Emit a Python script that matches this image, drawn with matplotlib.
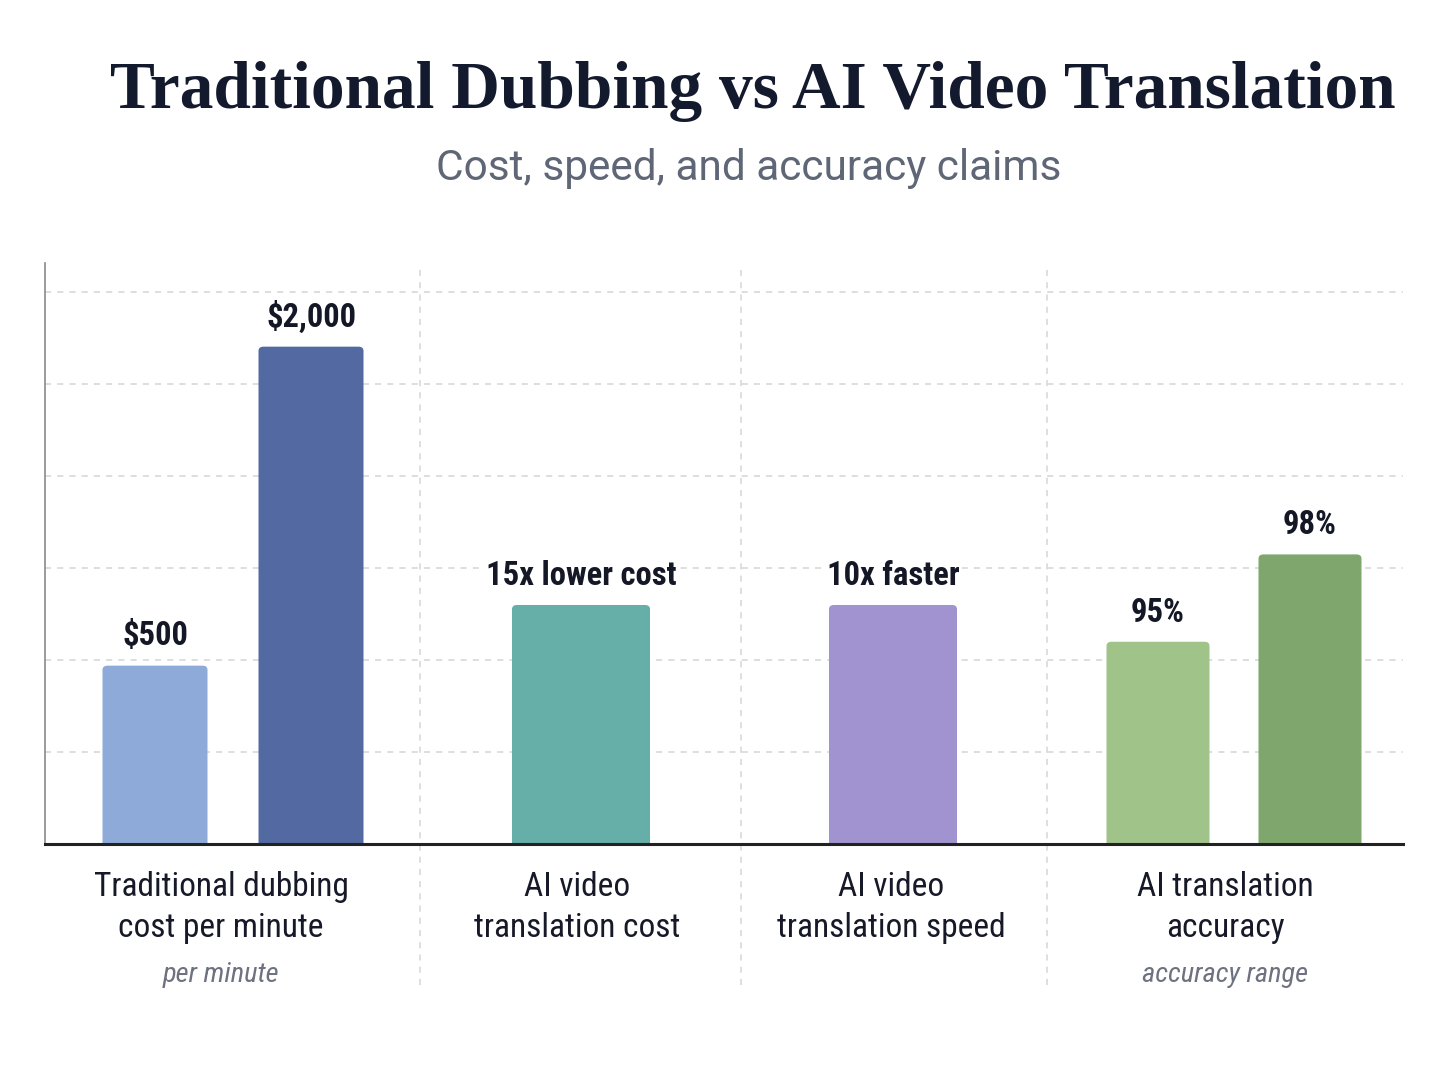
import matplotlib.pyplot as plt
from matplotlib.patches import FancyBboxPatch
from matplotlib.transforms import blended_transform_factory

# chart values (bar heights in plot units, as drawn in the source)
categories = ['Traditional dubbing\ncost per minute', 'AI video\ntranslation cost',
              'AI video\ntranslation speed', 'AI translation\naccuracy']
sublabels = ['per minute', '', '', 'accuracy range']
bar_labels = ['$500', '$2,000', '15x lower cost', '10x faster', '95%', '98%']
bar_heights = [1.94, 5.41, 2.60, 2.60, 2.20, 3.15]

# layout
bar_x = [1.10, 2.66, 5.36, 8.48, 11.13, 12.65]
bar_w = [1.05, 1.05, 1.38, 1.28, 1.03, 1.03]
group_x = [1.76, 5.32, 8.46, 11.80]
sep_x = [3.75, 6.96, 10.02]
colors = ['#8eaad8', '#526aa1', '#66aea8', '#a193cf', '#a0c389', '#7fa66c']

cond = ['Roboto Condensed', 'Roboto', 'DejaVu Sans']

fig = plt.figure(figsize=(14.48, 10.86), dpi=100)
fig.patch.set_facecolor('white')
ax = fig.add_axes([45 / 1448, 242 / 1086, 1358 / 1448, 581 / 1086])

ax.set_xlim(0, 13.58)
ax.set_ylim(0, 6.32)
ax.set_yticks([1, 2, 3, 4, 5, 6])
ax.set_yticklabels([])
ax.set_xticks([])
ax.tick_params(axis='y', length=0)
ax.grid(axis='y', color='#d4d4d4', linestyle=(0, (4, 4)), linewidth=1.1)
ax.set_axisbelow(True)

for s in ['top', 'right']:
    ax.spines[s].set_visible(False)
ax.spines['left'].set_color('#8a8a8a')
ax.spines['left'].set_linewidth(1.2)
ax.spines['bottom'].set_color('#222222')
ax.spines['bottom'].set_linewidth(2.2)
ax.spines['bottom'].set_zorder(5)

# bars with slightly rounded tops
for x, w, h, c, lab in zip(bar_x, bar_w, bar_heights, colors, bar_labels):
    patch = FancyBboxPatch((x - w / 2, -0.1), w, h + 0.1,
                           boxstyle='round,pad=0,rounding_size=0.05',
                           mutation_aspect=0.92, facecolor=c, edgecolor='none',
                           zorder=3)
    ax.add_patch(patch)
    ax.annotate(lab, xy=(x, h), xytext=(0, 21), textcoords='offset points',
                ha='center', va='center', fontsize=23.5, fontweight='bold',
                family=cond, color='#141826', zorder=4,
                bbox=dict(facecolor='white', edgecolor='none', pad=2))

# group separators
trans = blended_transform_factory(ax.transData, ax.transAxes)
for sx in sep_x:
    ax.plot([sx, sx], [-0.243, 0.99], transform=trans, clip_on=False,
            color='#d6d6d6', linestyle=(0, (4, 4)), linewidth=1.1, zorder=1)

# category labels
for gx, cat, sub in zip(group_x, categories, sublabels):
    ax.annotate(cat, xy=(gx, 0), xycoords=trans, xytext=(0, -45.5),
                textcoords='offset points', ha='center', va='center',
                fontsize=24, fontweight='normal', family=cond,
                color='#161927', linespacing=1.35)
    if sub:
        ax.annotate(sub, xy=(gx, 0), xycoords=trans, xytext=(0, -94),
                    textcoords='offset points', ha='center', va='center',
                    fontsize=20.5, style='italic', family=cond, color='#6e7280')

fig.text(0.52, 0.916, 'Traditional Dubbing vs AI Video Translation',
         ha='center', va='center', fontsize=48.5, fontweight='bold',
         family=['Liberation Serif', 'DejaVu Serif'], color='#141a2e')
fig.text(0.517, 0.845, 'Cost, speed, and accuracy claims',
         ha='center', va='center', fontsize=30.5,
         family=['Roboto', 'DejaVu Sans'], color='#5f6676')

fig.savefig('out.png', dpi=100, facecolor='white')
